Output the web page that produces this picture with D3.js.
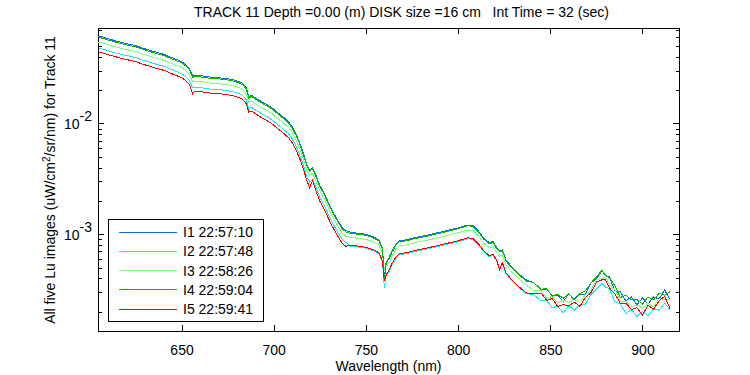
<!DOCTYPE html>
<html>
<head>
<meta charset="utf-8">
<script src="https://cdn.jsdelivr.net/npm/d3@7"></script>
<style>
  body { margin: 0; background: #fff; }
  text { font-family: "Liberation Sans", Arial, sans-serif; font-size: 14px; fill: #000; }
</style>
</head>
<body>
<div id="chart"></div>
<script>
// Wavelength grid (nm) shared by all five scans
const wavelength = [
  605, 608, 611, 614, 617, 620, 623, 626, 629, 632, 635, 638, 641, 644, 647, 650,
  652, 654, 655, 656, 657, 659, 662, 666, 670, 674, 678, 681, 683, 685, 686.5, 688,
  690, 693, 696, 699, 702, 705, 708,
  710, 712, 714, 716, 718, 719.5, 721, 723, 725, 727, 729, 731, 733, 735, 737, 739,
  742, 746, 750, 754, 757, 759, 760, 761, 762.5, 764, 766, 768, 772, 776, 780, 785,
  790, 795, 800, 805, 808, 811, 814, 817, 819, 821, 822.5, 824, 826, 829, 833, 837,
  841, 845, 848, 851, 854, 857, 860, 863, 866, 869, 872, 875, 878, 880, 882, 885,
  888, 891, 894, 897, 900, 903, 906, 909, 912, 915
];

// Lu values, uW/cm^2/sr/nm
const i1 = [
  6.14e-2, 6.01e-2, 5.77e-2, 5.60e-2, 5.42e-2, 5.27e-2, 5.16e-2, 4.99e-2, 4.79e-2, 4.63e-2, 4.47e-2, 4.33e-2, 4.18e-2, 3.98e-2, 3.80e-2, 3.63e-2,
  3.43e-2, 3.19e-2, 2.93e-2, 2.70e-2, 2.73e-2, 2.72e-2, 2.68e-2, 2.62e-2, 2.59e-2, 2.55e-2, 2.48e-2, 2.40e-2, 2.31e-2, 2.12e-2, 1.76e-2, 1.80e-2,
  1.71e-2, 1.59e-2, 1.49e-2, 1.39e-2, 1.26e-2, 1.15e-2, 1.04e-2,
  9.33e-3, 8.07e-3, 6.76e-3, 5.43e-3, 4.24e-3, 3.81e-3, 3.98e-3, 3.37e-3, 2.76e-3, 2.41e-3, 2.04e-3, 1.73e-3, 1.50e-3, 1.31e-3, 1.16e-3, 1.08e-3,
  1.035e-3, 1.02e-3, 9.96e-4, 9.46e-4, 8.89e-4, 7.52e-4, 4.03e-4, 5.62e-4, 6.11e-4, 6.92e-4, 8.00e-4, 8.71e-4, 8.89e-4, 9.27e-4, 9.55e-4, 9.96e-4,
  1.04e-3, 1.09e-3, 1.14e-3, 1.21e-3, 1.20e-3, 1.07e-3, 9.17e-4, 8.35e-4, 8.61e-4, 7.52e-4, 7.06e-4, 7.21e-4, 5.86e-4, 5.07e-4, 4.38e-4, 3.86e-4,
  3.63e-4, 3.14e-4, 3.21e-4, 2.77e-4, 2.82e-4, 2.47e-4, 2.88e-4, 2.60e-4, 2.88e-4, 2.88e-4, 3.63e-4, 3.94e-4, 4.66e-4, 4.25e-4, 4.11e-4, 3.08e-4,
  3.01e-4, 2.49e-4, 2.71e-4, 2.30e-4, 2.66e-4, 2.34e-4, 2.71e-4, 2.60e-4, 3.14e-4, 2.55e-4
];
const i2 = [
  4.78e-2, 4.68e-2, 4.49e-2, 4.36e-2, 4.22e-2, 4.11e-2, 4.02e-2, 3.89e-2, 3.73e-2, 3.61e-2, 3.48e-2, 3.37e-2, 3.26e-2, 3.10e-2, 2.96e-2, 2.83e-2,
  2.67e-2, 2.49e-2, 2.28e-2, 2.10e-2, 2.13e-2, 2.12e-2, 2.09e-2, 2.04e-2, 2.02e-2, 1.99e-2, 1.93e-2, 1.87e-2, 1.80e-2, 1.65e-2, 1.37e-2, 1.40e-2,
  1.33e-2, 1.24e-2, 1.16e-2, 1.08e-2, 9.82e-3, 8.96e-3, 8.10e-3,
  7.28e-3, 6.29e-3, 5.27e-3, 4.24e-3, 3.31e-3, 2.97e-3, 3.10e-3, 2.63e-3, 2.15e-3, 1.88e-3, 1.59e-3, 1.35e-3, 1.17e-3, 1.02e-3, 9.05e-4, 8.42e-4,
  7.76e-4, 7.65e-4, 7.47e-4, 7.10e-4, 6.67e-4, 5.64e-4, 3.27e-4, 4.40e-4, 4.58e-4, 5.19e-4, 6.00e-4, 6.53e-4, 6.67e-4, 6.95e-4, 7.16e-4, 7.47e-4,
  7.80e-4, 8.18e-4, 8.55e-4, 9.08e-4, 9.00e-4, 8.03e-4, 6.88e-4, 6.26e-4, 6.46e-4, 5.64e-4, 4.90e-4, 5.41e-4, 4.40e-4, 3.80e-4, 3.29e-4, 2.90e-4,
  2.84e-4, 2.49e-4, 2.51e-4, 2.17e-4, 2.24e-4, 1.95e-4, 2.26e-4, 2.06e-4, 2.29e-4, 2.31e-4, 2.84e-4, 3.19e-4, 3.58e-4, 3.32e-4, 3.24e-4, 2.44e-4,
  2.35e-4, 1.91e-4, 2.08e-4, 1.80e-4, 2.01e-4, 1.83e-4, 2.12e-4, 2.06e-4, 2.38e-4, 2.08e-4
];
const i3 = [
  5.42e-2, 5.31e-2, 5.09e-2, 4.94e-2, 4.79e-2, 4.65e-2, 4.56e-2, 4.41e-2, 4.23e-2, 4.09e-2, 3.95e-2, 3.82e-2, 3.69e-2, 3.51e-2, 3.36e-2, 3.21e-2,
  3.03e-2, 2.82e-2, 2.59e-2, 2.38e-2, 2.41e-2, 2.40e-2, 2.37e-2, 2.31e-2, 2.29e-2, 2.25e-2, 2.19e-2, 2.12e-2, 2.04e-2, 1.87e-2, 1.55e-2, 1.59e-2,
  1.51e-2, 1.40e-2, 1.32e-2, 1.23e-2, 1.11e-2, 1.02e-2, 9.18e-3,
  8.30e-3, 7.18e-3, 6.02e-3, 4.83e-3, 3.77e-3, 3.39e-3, 3.54e-3, 3.00e-3, 2.46e-3, 2.14e-3, 1.82e-3, 1.54e-3, 1.34e-3, 1.17e-3, 1.03e-3, 9.61e-4,
  9.32e-4, 9.18e-4, 8.96e-4, 8.51e-4, 8.00e-4, 6.77e-4, 4.75e-4, 5.06e-4, 5.50e-4, 6.23e-4, 7.20e-4, 7.84e-4, 8.00e-4, 8.34e-4, 8.60e-4, 8.96e-4,
  9.36e-4, 9.81e-4, 1.03e-3, 1.09e-3, 1.08e-3, 9.63e-4, 8.25e-4, 7.52e-4, 7.75e-4, 6.77e-4, 6.35e-4, 6.49e-4, 5.27e-4, 4.56e-4, 3.94e-4, 3.47e-4,
  3.11e-4, 3.13e-4, 2.63e-4, 2.74e-4, 2.39e-4, 2.54e-4, 2.42e-4, 2.57e-4, 2.42e-4, 2.83e-4, 3.10e-4, 3.89e-4, 3.99e-4, 4.06e-4, 3.48e-4, 3.13e-4,
  2.49e-4, 2.46e-4, 2.23e-4, 2.29e-4, 2.15e-4, 2.36e-4, 2.21e-4, 2.62e-4, 2.58e-4, 2.54e-4
];
const i4 = [
  5.99e-2, 5.86e-2, 5.63e-2, 5.46e-2, 5.28e-2, 5.14e-2, 5.03e-2, 4.87e-2, 4.67e-2, 4.51e-2, 4.36e-2, 4.22e-2, 4.08e-2, 3.88e-2, 3.71e-2, 3.54e-2,
  3.34e-2, 3.11e-2, 2.86e-2, 2.60e-2, 2.66e-2, 2.65e-2, 2.61e-2, 2.55e-2, 2.53e-2, 2.49e-2, 2.42e-2, 2.34e-2, 2.25e-2, 2.07e-2, 1.70e-2, 1.76e-2,
  1.67e-2, 1.55e-2, 1.45e-2, 1.36e-2, 1.23e-2, 1.12e-2, 1.01e-2,
  9.10e-3, 7.87e-3, 6.59e-3, 5.29e-3, 4.13e-3, 3.71e-3, 3.88e-3, 3.29e-3, 2.69e-3, 2.35e-3, 1.99e-3, 1.69e-3, 1.46e-3, 1.28e-3, 1.13e-3, 1.05e-3,
  1.01e-3, 1.00e-3, 9.76e-4, 9.27e-4, 8.71e-4, 7.37e-4, 3.85e-4, 5.50e-4, 5.99e-4, 6.78e-4, 7.84e-4, 8.54e-4, 8.71e-4, 9.08e-4, 9.36e-4, 9.76e-4,
  1.02e-3, 1.07e-3, 1.12e-3, 1.19e-3, 1.18e-3, 1.05e-3, 8.99e-4, 8.18e-4, 8.44e-4, 7.37e-4, 6.92e-4, 7.07e-4, 5.74e-4, 4.97e-4, 4.29e-4, 3.78e-4,
  3.65e-4, 3.17e-4, 3.25e-4, 2.75e-4, 2.87e-4, 2.63e-4, 2.90e-4, 2.55e-4, 2.91e-4, 3.07e-4, 3.62e-4, 4.11e-4, 4.74e-4, 4.20e-4, 4.06e-4, 3.43e-4,
  2.68e-4, 2.81e-4, 2.55e-4, 2.56e-4, 2.34e-4, 2.71e-4, 2.55e-4, 2.93e-4, 2.80e-4, 3.04e-4
];
const i5 = [
  4.40e-2, 4.31e-2, 4.14e-2, 4.02e-2, 3.89e-2, 3.78e-2, 3.70e-2, 3.58e-2, 3.43e-2, 3.32e-2, 3.20e-2, 3.10e-2, 3.00e-2, 2.85e-2, 2.72e-2, 2.60e-2,
  2.46e-2, 2.29e-2, 2.10e-2, 1.85e-2, 1.96e-2, 1.95e-2, 1.92e-2, 1.88e-2, 1.86e-2, 1.83e-2, 1.78e-2, 1.72e-2, 1.66e-2, 1.52e-2, 1.27e-2, 1.29e-2,
  1.23e-2, 1.14e-2, 1.07e-2, 9.97e-3, 9.03e-3, 8.25e-3, 7.46e-3,
  6.72e-3, 5.81e-3, 4.87e-3, 3.91e-3, 3.05e-3, 2.62e-3, 3.05e-3, 2.43e-3, 1.99e-3, 1.74e-3, 1.47e-3, 1.25e-3, 1.08e-3, 9.43e-4, 8.35e-4, 7.78e-4,
  7.92e-4, 7.80e-4, 7.62e-4, 7.24e-4, 6.80e-4, 5.75e-4, 3.75e-4, 4.30e-4, 4.70e-4, 5.40e-4, 6.12e-4, 6.66e-4, 6.80e-4, 7.09e-4, 7.31e-4, 7.62e-4,
  7.96e-4, 8.34e-4, 8.72e-4, 9.26e-4, 9.18e-4, 8.19e-4, 7.02e-4, 6.39e-4, 6.59e-4, 5.75e-4, 4.80e-4, 5.52e-4, 4.48e-4, 3.88e-4, 3.35e-4, 2.95e-4,
  2.89e-4, 2.94e-4, 2.52e-4, 2.63e-4, 2.22e-4, 2.32e-4, 2.25e-4, 2.43e-4, 2.23e-4, 2.68e-4, 2.95e-4, 3.70e-4, 3.87e-4, 3.86e-4, 3.27e-4, 2.89e-4,
  2.37e-4, 2.39e-4, 2.08e-4, 2.17e-4, 1.86e-4, 2.28e-4, 2.10e-4, 2.50e-4, 2.75e-4, 2.11e-4
];

const seriesNames = ["I1 22:57:10", "I2 22:57:48", "I3 22:58:26", "I4 22:59:04", "I5 22:59:41"];
const seriesColors = ["#0a6fe0", "#1ee8f4", "#7cff7c", "#00b800", "#ff0000"];
const xTicks = [650, 700, 750, 800, 850, 900];
const yMajorTicks = [1e-3, 1e-2];
const yMinorTicks = [2e-4, 3e-4, 4e-4, 5e-4, 6e-4, 7e-4, 8e-4, 9e-4,
                     2e-3, 3e-3, 4e-3, 5e-3, 6e-3, 7e-3, 8e-3, 9e-3,
                     2e-2, 3e-2, 4e-2, 5e-2, 6e-2, 7e-2];
const yLabelExp = ["-3", "-2"];

const margin = {top: 28, right: 71, bottom: 44, left: 98},
    width = 750 - margin.left - margin.right,
    height = 375 - margin.top - margin.bottom;

const svg = d3.select("#chart")
    .append("svg")
    .attr("width", 750)
    .attr("height", 375)
    .style("background", "#fff");

const g = svg.append("g")
    .attr("transform", `translate(${margin.left},${margin.top})`);

// Scales
const x = d3.scaleLinear().domain([604.7, 919.8]).range([0, width]);
const y = d3.scaleLog().domain([1.335e-4, 7.29e-2]).range([height, 0]);

// Bottom axis with labels, top axis ticks only
g.append("g")
    .attr("transform", `translate(0,${height})`)
    .call(d3.axisBottom(x).tickValues(xTicks).tickSizeInner(-6).tickSizeOuter(0)
        .tickPadding(14).tickFormat(d3.format("d")));
g.append("g")
    .call(d3.axisTop(x).tickValues(xTicks).tickSizeInner(-6).tickSizeOuter(0).tickFormat(""));

// Left axis: major ticks with 10^n labels, minor ticks
const left = g.append("g")
    .call(d3.axisLeft(y).tickValues(yMajorTicks).tickSizeInner(-6).tickSizeOuter(0).tickFormat(""));
g.append("g")
    .call(d3.axisLeft(y).tickValues(yMinorTicks).tickSizeInner(-3.5).tickSizeOuter(0).tickFormat(""));
left.selectAll(".tick text").remove();
left.selectAll(".tick").append("text")
    .attr("x", -6)
    .attr("dy", "0.36em")
    .attr("text-anchor", "end")
    .each(function(d, i) {
        const t = d3.select(this);
        t.append("tspan").text("10");
        t.append("tspan").attr("dy", "-8").text(yLabelExp[i]);
    });

// Right axis ticks
g.append("g")
    .attr("transform", `translate(${width},0)`)
    .call(d3.axisRight(y).tickValues(yMajorTicks).tickSizeInner(-6).tickSizeOuter(0).tickFormat(""));
g.append("g")
    .attr("transform", `translate(${width},0)`)
    .call(d3.axisRight(y).tickValues(yMinorTicks).tickSizeInner(-3.5).tickSizeOuter(0).tickFormat(""));

g.selectAll(".domain").remove();
g.selectAll(".tick line").attr("stroke", "#000").attr("shape-rendering", "crispEdges");
g.selectAll(".tick text").style("font-size", "14px").attr("fill", "#000");

// Plot frame
g.append("rect")
    .attr("width", width)
    .attr("height", height)
    .attr("fill", "none")
    .attr("stroke", "#000")
    .attr("shape-rendering", "crispEdges");

// Series lines
const series = [i1, i2, i3, i4, i5];
const line = d3.line()
    .x(d => x(d[0]))
    .y(d => y(d[1]));

series.forEach(function(vals, k) {
    g.append("path")
        .datum(wavelength.map((w, j) => [w, vals[j]]))
        .attr("fill", "none")
        .attr("stroke", seriesColors[k])
        .attr("stroke-width", 1)
        .attr("shape-rendering", "crispEdges")
        .attr("d", line);
});

// Legend
const legend = svg.append("g");
legend.append("rect")
    .attr("x", 108.5).attr("y", 219.5)
    .attr("width", 155).attr("height", 102)
    .attr("fill", "#fff").attr("stroke", "#000")
    .attr("shape-rendering", "crispEdges");
seriesNames.forEach(function(name, k) {
    const ly = 232 + k * 19.25;
    legend.append("line")
        .attr("x1", 119).attr("x2", 177)
        .attr("y1", ly).attr("y2", ly)
        .attr("stroke", seriesColors[k])
        .attr("shape-rendering", "crispEdges");
    legend.append("text")
        .attr("x", 183).attr("y", ly)
        .attr("dy", "0.36em")
        .text(name);
});

// Title and axis labels
svg.append("text")
    .attr("x", 194)
    .attr("y", 17)
    .text("TRACK 11 Depth =0.00 (m) DISK size =16 cm   Int Time = 32 (sec)")
    .style("white-space", "pre");

svg.append("text")
    .attr("x", margin.left + width / 2)
    .attr("y", 371)
    .attr("text-anchor", "middle")
    .text("Wavelength (nm)");

const ylab = svg.append("text")
    .attr("transform", "translate(55,180) rotate(-90)")
    .attr("text-anchor", "middle");
ylab.append("tspan").text("All five Lu images (uW/cm");
ylab.append("tspan").attr("dy", "-5").style("font-size", "10px").text("2");
ylab.append("tspan").attr("dy", "5").text("/sr/nm) for Track 11");
</script>
</body>
</html>
